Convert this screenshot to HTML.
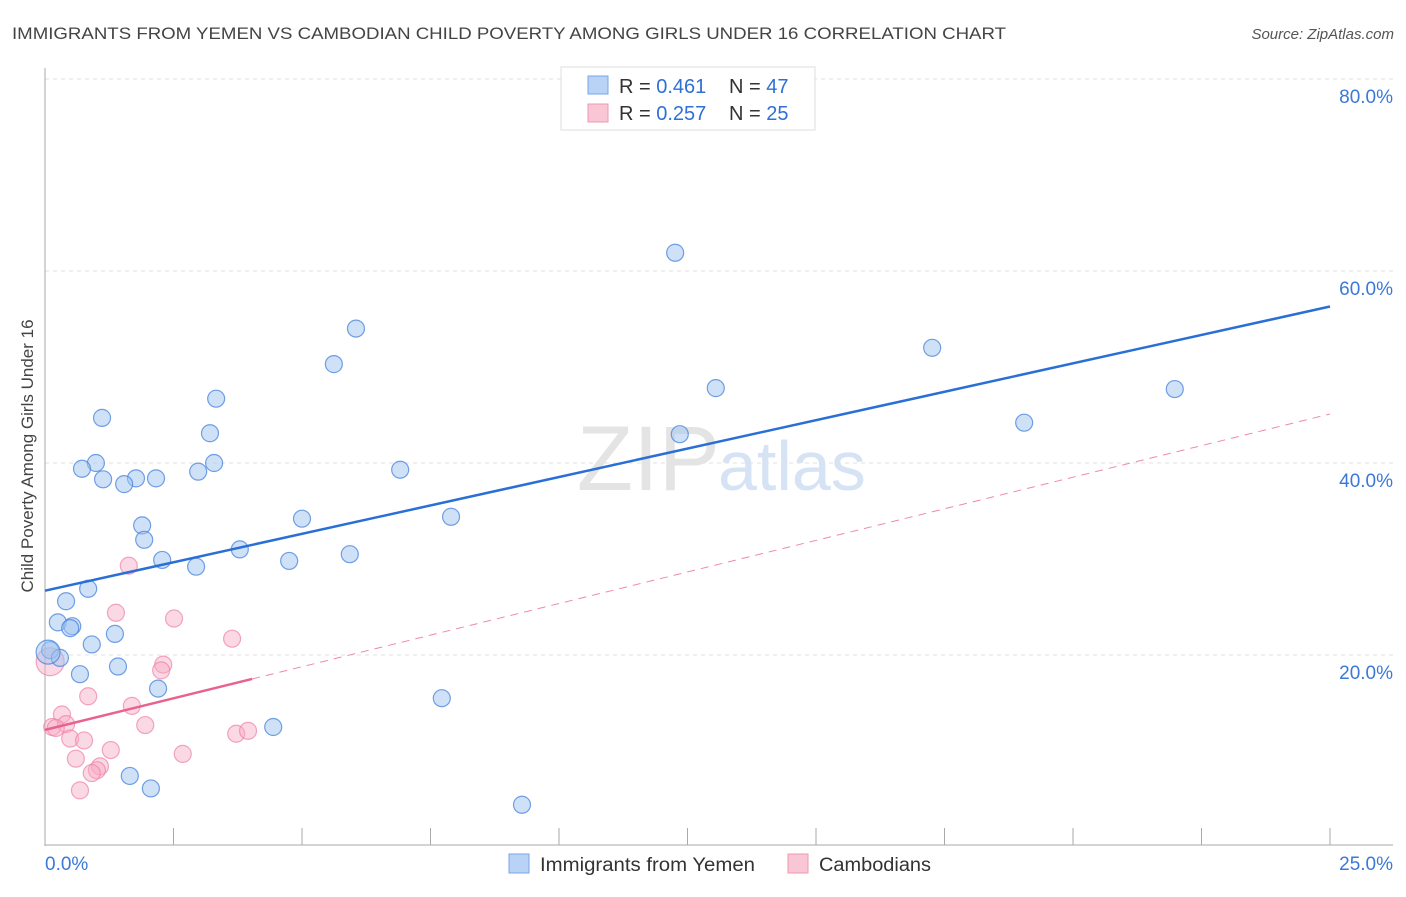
<!DOCTYPE html>
<html><head><meta charset="utf-8"><style>
body{margin:0;background:#fff;font-family:"Liberation Sans",sans-serif;}
svg text{font-family:"Liberation Sans",sans-serif;}
</style></head><body>
<svg id="chart" width="1406" height="892" xmlns="http://www.w3.org/2000/svg">
<text x="12" y="39" font-size="17" fill="#444" textLength="994" lengthAdjust="spacingAndGlyphs">IMMIGRANTS FROM YEMEN VS CAMBODIAN CHILD POVERTY AMONG GIRLS UNDER 16 CORRELATION CHART</text>
<text x="1394" y="39" font-size="15" fill="#555" font-style="italic" text-anchor="end">Source: ZipAtlas.com</text>
<text x="720" y="490" font-size="92" fill="#e4e4e4" text-anchor="end" font-family="Liberation Serif">ZIP</text>
<text x="718" y="490" font-size="70" fill="#d6e3f5">atlas</text>
<g id="grid"></g>
<g id="axes"></g>
<g id="marks"></g>
<text transform="translate(33,456) rotate(-90)" font-size="17" fill="#444" text-anchor="middle">Child Poverty Among Girls Under 16</text>
<g>
<rect x="561" y="67" width="254" height="63" fill="#fff" stroke="#ddd"/>
<rect x="588" y="76" width="20" height="18" fill="#b8d3f5" stroke="#7aa6e6"/>
<rect x="588" y="104" width="20" height="18" fill="#f9c6d6" stroke="#ee98b3"/>
<text x="619" y="93" font-size="20" fill="#333">R = <tspan fill="#2f6fd6">0.461</tspan></text>
<text x="729" y="93" font-size="20" fill="#333">N = <tspan fill="#2f6fd6">47</tspan></text>
<text x="619" y="120" font-size="20" fill="#333">R = <tspan fill="#2f6fd6">0.257</tspan></text>
<text x="729" y="120" font-size="20" fill="#333">N = <tspan fill="#2f6fd6">25</tspan></text>
</g>
<g>
<rect x="509" y="854" width="20" height="19" fill="#b8d3f5" stroke="#7aa6e6"/>
<text x="540" y="871" font-size="19" fill="#333" textLength="215" lengthAdjust="spacingAndGlyphs">Immigrants from Yemen</text>
<rect x="788" y="854" width="20" height="19" fill="#f9c6d6" stroke="#ee98b3"/>
<text x="819" y="871" font-size="19" fill="#333" textLength="112" lengthAdjust="spacingAndGlyphs">Cambodians</text>
</g>
</svg>
<script>
const yTicks=[20,40,60,80];
const yTickLabels=["20.0%","40.0%","60.0%","80.0%"];
const xTickVals=[0,2.5,5,7.5,10,12.5,15,17.5,20,22.5,25];
const xEndLabels=["0.0%","25.0%"];
const yemenX=[12.26,6.05,5.62,17.26,3.33,13.05,21.98,1.11,3.21,12.35,19.05,0.99,0.72,3.29,1.77,2.16,2.98,6.91,1.13,1.54,7.90,5.00,1.89,1.93,3.79,5.93,2.28,2.94,4.75,0.84,0.41,0.25,0.53,0.49,1.36,0.91,0.10,0.29,0.68,1.42,2.20,7.72,4.44,1.65,2.06,9.28,0.06];
const yemenY=[61.9,54.0,50.3,52.0,46.7,47.8,47.7,44.7,43.1,43.0,44.2,40.0,39.4,40.0,38.4,38.4,39.1,39.3,38.3,37.8,34.4,34.2,33.5,32.0,31.0,30.5,29.9,29.2,29.8,26.9,25.6,23.4,23.0,22.8,22.2,21.1,20.5,19.7,18.0,18.8,16.5,15.5,12.5,7.4,6.1,4.4,20.3];
const cambX=[1.63,1.38,2.51,3.64,2.30,2.26,0.10,0.84,1.69,0.33,0.14,0.41,1.95,0.49,0.76,1.28,3.72,3.95,2.68,0.60,1.07,1.01,0.91,0.68,0.21];
const cambY=[29.3,24.4,23.8,21.7,19.0,18.4,19.3,15.7,14.7,13.8,12.5,12.8,12.7,11.3,11.1,10.1,11.8,12.1,9.7,9.2,8.4,8.0,7.7,5.9,12.4];
const yemenTrend=[26.7,56.3];
const cambTrend=[12.2,45.1];
const cambSolidEnd=4.03;

const NS="http://www.w3.org/2000/svg";
const X=v=>45+v/25*1285;
const Y=v=>847-v*9.6;
function mk(tag,attrs,parent){const e=document.createElementNS(NS,tag);for(const k in attrs)e.setAttribute(k,attrs[k]);document.getElementById(parent).appendChild(e);return e;}

yTicks.forEach((t,i)=>{
 const g=mk('line',{x1:45,x2:1393,y1:Y(t),y2:Y(t),stroke:'#e2e2e2','stroke-dasharray':'4,4'},'grid');
 
 
 const l=mk('text',{x:1393,y:Y(t)+24,'font-size':19,fill:'#3b78d8','text-anchor':'end'},'axes');
 l.textContent=yTickLabels[i];
 
 
});
const ax=mk('line',{x1:45,x2:45,y1:68,y2:846,stroke:'#aaa'},'axes');


const bx=mk('line',{x1:45,x2:1393,y1:845,y2:845,stroke:'#aaa'},'axes');


xTickVals.forEach(v=>{
 const t=mk('line',{x1:X(v),x2:X(v),y1:828,y2:845,stroke:'#aaa'},'axes');
 
 
});
const xl0=mk('text',{x:45,y:870,'font-size':19,fill:'#3b78d8'},'axes');
xl0.textContent=xEndLabels[0];


const xl1=mk('text',{x:1393,y:870,'font-size':19,fill:'#3b78d8','text-anchor':'end'},'axes');
xl1.textContent=xEndLabels[1];



cambX.forEach((v,i)=>{
 const c=mk('circle',{cx:X(v),cy:Y(cambY[i]),r:i===6?14:8.5,fill:'rgba(246,170,196,0.45)',stroke:'rgba(238,130,165,0.7)','stroke-width':1.2},'marks');
 
 
});
yemenX.forEach((v,i)=>{
 const c=mk('circle',{cx:X(v),cy:Y(yemenY[i]),r:i===46?12:8.5,fill:'rgba(160,196,240,0.5)',stroke:'rgba(70,130,220,0.75)','stroke-width':1.2},'marks');
 
 
});
const camAt=v=>cambTrend[0]+(cambTrend[1]-cambTrend[0])*v/25;
const pd=mk('line',{x1:X(cambSolidEnd),y1:Y(camAt(cambSolidEnd)),x2:X(25),y2:Y(cambTrend[1]),stroke:'#ee8aab','stroke-width':1,'stroke-dasharray':'8,6'},'marks');


const ps=mk('line',{x1:X(0),y1:Y(cambTrend[0]),x2:X(cambSolidEnd),y2:Y(camAt(cambSolidEnd)),stroke:'#e8628f','stroke-width':2.5},'marks');


const bl=mk('line',{x1:X(0),y1:Y(yemenTrend[0]),x2:X(25),y2:Y(yemenTrend[1]),stroke:'#2a6fd6','stroke-width':2.5},'marks');


</script>
</body></html>
